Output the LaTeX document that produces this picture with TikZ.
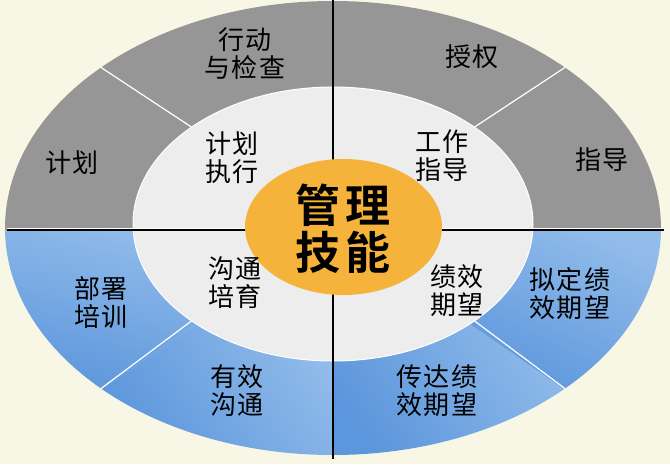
\documentclass[tikz,border=0pt]{standalone}
\usepackage{fontspec}
\newfontfamily\cjk[LetterSpace=6]{Noto Sans CJK SC}
\newfontfamily\cjkbf[LetterSpace=10]{Noto Sans CJK SC Bold}
\usetikzlibrary{calc}
\definecolor{paper}{HTML}{F8F7E5}
\definecolor{ring}{HTML}{969696}
\definecolor{core}{HTML}{EDEDED}
\definecolor{hub}{HTML}{F6B33B}
\definecolor{bluelt}{HTML}{92BCEA}
\definecolor{bluedk}{HTML}{5C96DC}

\begin{document}
\begin{tikzpicture}[x=1pt,y=-1pt,
  lbl/.style={font=\cjk\fontsize{26}{28}\selectfont,align=center,inner sep=0pt},
  hubtext/.style={font=\cjkbf\fontsize{45}{47}\selectfont,align=center,inner sep=0pt},
  bluefill/.style={top color=bluelt,bottom color=bluedk,shading angle=#1},
  divider/.style={white,line width=1.2pt},
  axis/.style={black,line width=2.6pt}]
  % paper
  \fill[paper] (0,0) rectangle (670,464);
  \useasboundingbox (0,0) rectangle (670,464);
  \coordinate (c) at (333,228);
  \coordinate (ci) at (333,224);
  \coordinate (ch) at (343.5,227);

  % divider end points
  \foreach \a/\n in {-135/ul,-45/ur,45/lr,135/ll}{
    \coordinate (\n-in) at ($(ci)+(\a:200 and 137)$);
    \coordinate (\n-out) at ($(c)+(\a:328 and 227)$);
  }

  % outer ring, upper half
  \begin{scope}
    \clip (0,0) rectangle (670,230);
    \fill[ring] (c) ellipse [x radius=328, y radius=227];
  \end{scope}
  % outer ring, lower sectors
  \begin{scope}
    \clip (c) ellipse [x radius=328, y radius=227];
    \begin{scope}
      \clip (333,230) -- (-20,230) -- ($(c)!2!(ll-out)$) -- cycle;
      \shade[bluefill=-15] (0,228) rectangle (215,392);
    \end{scope}
    \begin{scope}
      \clip (333,230) -- ($(c)!2!(ll-out)$) -- (333,480) -- cycle;
      \shade[bluefill=-55] (95,300) rectangle (334,458);
    \end{scope}
    \begin{scope}
      \clip (333,230) -- (333,480) -- ($(c)!2!(lr-out)$) -- cycle;
      \shade[bluefill=-55] (332,300) rectangle (571,458);
    \end{scope}
    \begin{scope}
      \clip (333,230) -- ($(c)!2!(lr-out)$) -- (690,230) -- cycle;
      \shade[bluefill=-25] (451,228) rectangle (666,392);
    \end{scope}
  \end{scope}

  % inner ring
  \fill[core,draw=white,line width=1pt] (ci) ellipse [x radius=200, y radius=137];

  % dividers
  \foreach \n in {ul,ur,lr,ll}
    \draw[divider] (\n-in) -- (\n-out);

  % axes
  \coordinate (top) at (333,0);
  \coordinate (bot) at (333,459);
  \coordinate (lft) at (7,230);
  \coordinate (rgt) at (664,230);
  \draw[white,line width=1pt] ($(lft)+(0,-2)$) -- ($(rgt)+(0,-2)$);
  \draw[axis] (lft) -- (rgt);
  \draw[axis] (top) -- (bot);

  % hub
  \fill[hub] (ch) ellipse [x radius=98.5, y radius=68];
  \node[hubtext] (hub) at (343,228.5) {管理\\技能};

  % labels
  \node[lbl] (act)   at (245,54)  {行动\\与检查};
  \node[lbl] (plan)  at (72,163)  {计划};
  \node[lbl] (exec)  at (232,158) {计划\\执行};
  \node[lbl] (auth)  at (472,57)  {授权};
  \node[lbl] (guide) at (442,156) {工作\\指导};
  \node[lbl] (coach) at (602,160) {指导};
  \node[lbl] (train) at (101,303) {部署\\培训};
  \node[lbl] (grow)  at (235,283) {沟通\\培育};
  \node[lbl] (talk)  at (237,391) {有效\\沟通};
  \node[lbl] (goal)  at (457,291) {绩效\\期望};
  \node[lbl] (set)   at (570,294) {拟定绩\\效期望};
  \node[lbl] (tell)  at (437,391) {传达绩\\效期望};
\end{tikzpicture}
\end{document}
